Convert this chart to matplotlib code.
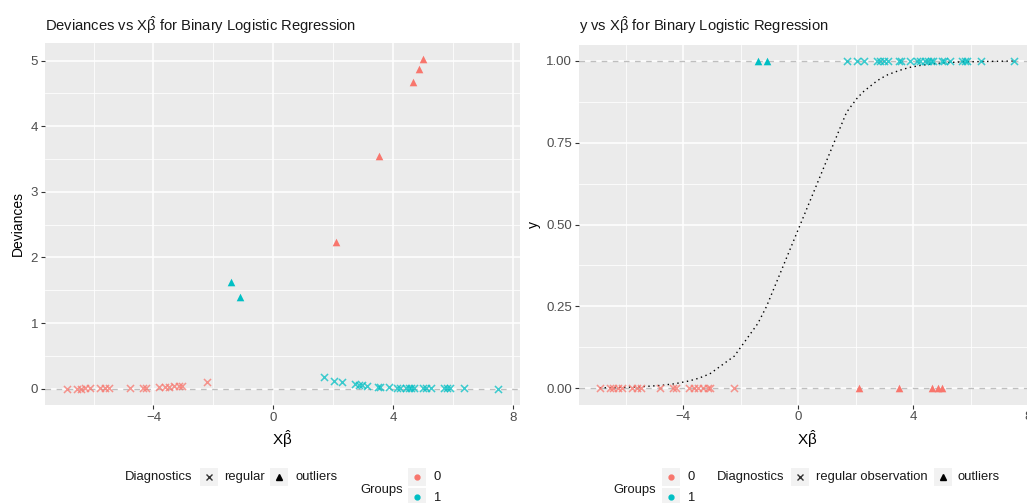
import numpy as np
import matplotlib
matplotlib.use("Agg")
import matplotlib.pyplot as plt
from matplotlib.lines import Line2D
from matplotlib.patches import Rectangle

plt.rcParams["font.family"] = ["Liberation Sans", "DejaVu Sans"]
plt.rcParams["mathtext.fontset"] = "custom"
plt.rcParams["mathtext.rm"] = "Liberation Sans"
plt.rcParams["mathtext.it"] = "Liberation Sans"

# ---- data ----
# group 0 (y = 0), regular observations
xb_0_reg = [-6.9, -6.55, -6.43, -6.28, -6.13, -5.78, -5.62, -5.47, -4.8, -4.35,
            -4.25, -3.8, -3.63, -3.47, -3.32, -3.15, -3.05, -2.22]
dev_0_reg = [0.001, 0.0014, 0.0016, 0.0019, 0.0022, 0.0031, 0.0036, 0.0042, 0.0082, 0.0128,
             0.014, 0.022, 0.026, 0.031, 0.036, 0.042, 0.046, 0.103]
fit_0_reg = [0.001, 0.0014, 0.0016, 0.0019, 0.0022, 0.0031, 0.0036, 0.0042, 0.0082, 0.0127,
             0.014, 0.0219, 0.026, 0.030, 0.035, 0.041, 0.045, 0.098]

# group 0, outliers
xb_0_out = [2.1, 3.51, 4.66, 4.87, 5.0]
dev_0_out = [2.24, 3.55, 4.68, 4.88, 5.02]
fit_0_out = [0.891, 0.971, 0.9907, 0.9924, 0.9933]

# group 1 (y = 1), regular observations
xb_1_reg = [1.68, 2.03, 2.28, 2.74, 2.85, 2.97, 3.12, 3.49, 3.56, 3.87, 4.13, 4.24,
            4.41, 4.52, 4.6, 4.7, 5.0, 5.08, 5.26, 5.7, 5.8, 5.88, 6.35, 7.51]
dev_1_reg = [0.171, 0.123, 0.097, 0.063, 0.056, 0.05, 0.043, 0.030, 0.028, 0.021, 0.016, 0.014,
             0.012, 0.011, 0.010, 0.009, 0.0067, 0.0062, 0.0052, 0.0033, 0.003, 0.0028, 0.0017, 0.0005]
fit_1_reg = [0.843, 0.884, 0.907, 0.939, 0.945, 0.951, 0.958, 0.970, 0.972, 0.980, 0.984, 0.986,
             0.988, 0.989, 0.990, 0.991, 0.993, 0.994, 0.995, 0.997, 0.997, 0.997, 0.998, 0.9995]

# group 1, outliers
xb_1_out = [-1.4, -1.1]
dev_1_out = [1.62, 1.39]
fit_1_out = [0.198, 0.250]

RED = "#F8766D"
CYAN = "#00BFC4"
PANEL = "#EBEBEB"
W, H = 1027, 503
XHAT = r"$\mathrm{X}\hat{\beta}$"


def fx(px):
    return px / W


def fy(py):
    return 1 - py / H


def style_panel(ax, xmajor, xminor, ymajor, yminor, ylabels):
    ax.set_facecolor(PANEL)
    for s in ax.spines.values():
        s.set_visible(False)
    ax.set_xticks(xmajor)
    ax.set_xticks(xminor, minor=True)
    ax.set_yticks(ymajor)
    ax.set_yticks(yminor, minor=True)
    ax.set_yticklabels(ylabels)
    ax.grid(True, which="major", color="white", linewidth=1.1)
    ax.grid(True, which="minor", color="white", linewidth=0.55)
    ax.set_axisbelow(True)
    ax.tick_params(which="major", length=3, width=0.8, color="#333333",
                   labelcolor="#4D4D4D", labelsize=9.5, pad=2)
    ax.tick_params(which="minor", length=0)


fig = plt.figure(figsize=(W / 100, H / 100), dpi=100)

# ---- left panel: deviances ----
ax1 = fig.add_axes([fx(45), fy(405), fx(520) - fx(45), fy(43) - fy(405)])
ax1.set_xlim(-7.62, 8.23)
ax1.set_ylim(-0.25, 5.27)
style_panel(ax1, [-4, 0, 4, 8], [-6, -2, 2, 6],
            [0, 1, 2, 3, 4, 5], np.arange(0.5, 5.5, 1.0), ["0", "1", "2", "3", "4", "5"])
ax1.axhline(0, color="#BEBEBE", linestyle=(0, (4, 4)), linewidth=1, zorder=1)
ax1.scatter(xb_0_reg, dev_0_reg, marker="x", s=26, color=RED, alpha=0.75, linewidths=1.1, zorder=3)
ax1.scatter(xb_1_reg, dev_1_reg, marker="x", s=26, color=CYAN, alpha=0.75, linewidths=1.1, zorder=3)
ax1.scatter(xb_0_out, dev_0_out, marker="^", s=30, color=RED, linewidths=0, zorder=3)
ax1.scatter(xb_1_out, dev_1_out, marker="^", s=30, color=CYAN, linewidths=0, zorder=3)
ax1.set_xlabel(XHAT, fontsize=11, color="black", labelpad=3)
ax1.set_ylabel("Deviances", fontsize=10, color="black", labelpad=4)

# ---- right panel: y ----
ax2 = fig.add_axes([fx(579), fy(404.5), fx(1035) - fx(579), fy(44.5) - fy(404.5)])
ax2.set_xlim(-7.62, 8.23)
ax2.set_ylim(-0.05, 1.05)
style_panel(ax2, [-4, 0, 4, 8], [-6, -2, 2, 6],
            [0, 0.25, 0.5, 0.75, 1.0], np.arange(0.125, 1.0, 0.25),
            ["0.00", "0.25", "0.50", "0.75", "1.00"])
ax2.axhline(0, color="#BEBEBE", linestyle=(0, (4, 4)), linewidth=1, zorder=1)
ax2.axhline(1, color="#BEBEBE", linestyle=(0, (4, 4)), linewidth=1, zorder=1)

# fitted curve through all observations, ordered by linear predictor
xb_all = np.array(xb_0_reg + xb_0_out + xb_1_reg + xb_1_out)
fit_all = np.array(fit_0_reg + fit_0_out + fit_1_reg + fit_1_out)
order = np.argsort(xb_all)
ax2.plot(xb_all[order], fit_all[order], color="black", linestyle=(0, (1, 2.5)),
         linewidth=1, zorder=2)

ax2.scatter(xb_0_reg, np.zeros(len(xb_0_reg)), marker="x", s=26, color=RED, alpha=0.75,
            linewidths=1.1, zorder=3)
ax2.scatter(xb_1_reg, np.ones(len(xb_1_reg)), marker="x", s=26, color=CYAN, alpha=0.75,
            linewidths=1.1, zorder=3)
ax2.scatter(xb_0_out, np.zeros(len(xb_0_out)), marker="^", s=30, color=RED, linewidths=0, zorder=3)
ax2.scatter(xb_1_out, np.ones(len(xb_1_out)), marker="^", s=30, color=CYAN, linewidths=0, zorder=3)
ax2.set_xlabel(XHAT, fontsize=11, color="black", labelpad=3)
ax2.set_ylabel("y", fontsize=10, color="black", labelpad=4)

# ---- titles ----
fig.text(fx(45), fy(25), "Deviances vs " + XHAT + " for Binary Logistic Regression",
         fontsize=10.6, color="#1A1A1A", va="center", ha="left")
fig.text(fx(579), fy(25), "y vs " + XHAT + " for Binary Logistic Regression",
         fontsize=10.6, color="#1A1A1A", va="center", ha="left")


# ---- legends (drawn by hand, ggplot style) ----
def key_box(x0, yc, marker=None, color="black", size=5):
    fig.add_artist(Rectangle((fx(x0), fy(yc + 9)), 18 / W, 18 / H,
                             transform=fig.transFigure, facecolor="#F2F2F2",
                             edgecolor="none"))
    if marker is not None:
        fig.add_artist(Line2D([fx(x0 + 9)], [fy(yc)], marker=marker, markersize=size,
                              color=color, linestyle="none", markeredgewidth=1,
                              transform=fig.transFigure))


def legend_text(x, yc, s, size=9.4):
    fig.text(fx(x), fy(yc), s, fontsize=size, color="#1A1A1A", va="center", ha="left")


# left
legend_text(125, 477, "Diagnostics")
key_box(200, 477, "x", "#333333", 4.5)
legend_text(224, 477, "regular")
key_box(270, 477, "^", "black", 5)
legend_text(295, 477, "outliers")
legend_text(360, 490, "Groups")
key_box(408, 477, "o", RED, 3.5)
legend_text(433, 477, "0")
key_box(408, 497, "o", CYAN, 3.5)
legend_text(433, 498, "1")

# right
legend_text(613, 490, "Groups")
key_box(662, 477, "o", RED, 3.5)
legend_text(687, 477, "0")
key_box(662, 497, "o", CYAN, 3.5)
legend_text(687, 498, "1")
legend_text(717, 477, "Diagnostics")
key_box(791, 477, "x", "#333333", 4.5)
legend_text(816, 477, "regular observation")
key_box(934, 477, "^", "black", 5)
legend_text(958, 477, "outliers")

fig.savefig("out.png", dpi=100, facecolor="white")
